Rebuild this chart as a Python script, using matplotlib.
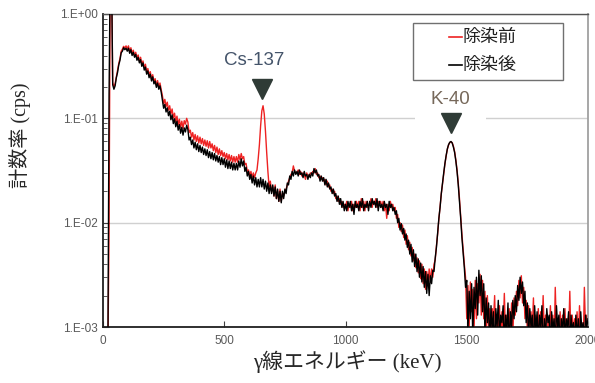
import numpy as np
import matplotlib
matplotlib.use("Agg")
import matplotlib.pyplot as plt
from matplotlib.ticker import FixedLocator, FuncFormatter, LogLocator, NullFormatter
from matplotlib.patches import Rectangle
from matplotlib.lines import Line2D

# ---------------- data (cps per 5 keV channel) ----------------
energy_start, energy_step, energy_stop = 0, 5, 2000

after_cps = [
    0.0005, 0.0005, 0.0005, 0.0005, 0.0005, 0.17, 3.0, 3.0, 0.21, 0.19,
    0.205, 0.245, 0.275, 0.325, 0.36, 0.425, 0.44, 0.475, 0.455, 0.47,
    0.44, 0.47, 0.42, 0.455, 0.40, 0.43, 0.385, 0.41, 0.36, 0.385,
    0.34, 0.365, 0.315, 0.34, 0.29, 0.31, 0.265, 0.285, 0.245, 0.265,
    0.228, 0.25, 0.214, 0.228, 0.198, 0.218, 0.19, 0.205, 0.178, 0.15,
    0.125, 0.136, 0.115, 0.126, 0.106, 0.117, 0.097, 0.108, 0.089, 0.099,
    0.083, 0.094, 0.077, 0.087, 0.072, 0.082, 0.069, 0.081, 0.074, 0.086,
    0.078, 0.062, 0.066, 0.056, 0.062, 0.052, 0.059, 0.050, 0.057, 0.048,
    0.055, 0.047, 0.053, 0.045, 0.051, 0.044, 0.050, 0.042, 0.048, 0.041,
    0.047, 0.040, 0.046, 0.039, 0.044, 0.038, 0.043, 0.036, 0.042, 0.036,
    0.041, 0.034, 0.040, 0.033, 0.039, 0.033, 0.038, 0.032, 0.037, 0.032,
    0.037, 0.032, 0.039, 0.034, 0.041, 0.035, 0.039, 0.031, 0.034, 0.028,
    0.031, 0.026, 0.029, 0.024, 0.028, 0.023, 0.027, 0.022, 0.026, 0.022,
    0.027, 0.022, 0.026, 0.021, 0.025, 0.020, 0.024, 0.019, 0.023, 0.019,
    0.023, 0.018, 0.022, 0.017, 0.021, 0.016, 0.020, 0.0155, 0.020, 0.017,
    0.021, 0.019, 0.024, 0.023, 0.028, 0.026, 0.031, 0.028, 0.032, 0.029,
    0.031, 0.028, 0.032, 0.029, 0.030, 0.027, 0.031, 0.028, 0.029, 0.026,
    0.029, 0.027, 0.030, 0.028, 0.033, 0.030, 0.032, 0.028, 0.029, 0.025,
    0.028, 0.025, 0.027, 0.023, 0.026, 0.022, 0.024, 0.021, 0.022, 0.019,
    0.021, 0.018, 0.019, 0.016, 0.018, 0.015, 0.017, 0.014, 0.016, 0.013,
    0.015, 0.013, 0.016, 0.014, 0.016, 0.013, 0.015, 0.012, 0.016, 0.014,
    0.015, 0.013, 0.016, 0.014, 0.017, 0.013, 0.015, 0.014, 0.016, 0.013,
    0.016, 0.014, 0.017, 0.015, 0.016, 0.014, 0.017, 0.013, 0.016, 0.014,
    0.015, 0.013, 0.016, 0.014, 0.015, 0.012, 0.016, 0.014, 0.015, 0.013,
    0.014, 0.012, 0.013, 0.010, 0.011, 0.0085, 0.0098, 0.0078, 0.0088, 0.0068,
    0.0078, 0.0058, 0.0068, 0.0050, 0.0062, 0.0042, 0.0055, 0.0038, 0.0050, 0.0034,
    0.0045, 0.0030, 0.0041, 0.0027, 0.0038, 0.0024, 0.0034, 0.0021, 0.0032, 0.0020,
    0.0031, 0.0026, 0.0035, 0.0034, 0.0046, 0.0058, 0.0080, 0.011, 0.014, 0.019,
    0.024, 0.030, 0.037, 0.044, 0.051, 0.056, 0.059, 0.060, 0.058, 0.053,
    0.047, 0.039, 0.031, 0.023, 0.016, 0.011, 0.0072, 0.0052, 0.0037, 0.0024,
    0.0028, 0.0009, 0.0022, 0.0012, 0.0026, 0.0008, 0.0024, 0.0015, 0.0030, 0.0013,
    0.0035, 0.0020, 0.0031, 0.0014, 0.0026, 0.0009, 0.0019, 0.0011, 0.0017, 0.0007,
    0.0016, 0.0009, 0.0014, 0.0006, 0.0015, 0.0010, 0.0018, 0.0008, 0.0013, 0.0011,
    0.0016, 0.0007, 0.0013, 0.0009, 0.0017, 0.0006, 0.0014, 0.0010, 0.0018, 0.0012,
    0.0020, 0.0014, 0.0025, 0.0018, 0.0030, 0.0021, 0.0027, 0.0016, 0.0022, 0.0011,
    0.0017, 0.0008, 0.0015, 0.0010, 0.0013, 0.0006, 0.0016, 0.0009, 0.0014, 0.0007,
    0.0013, 0.0010, 0.0016, 0.0006, 0.0012, 0.0008, 0.0015, 0.0011, 0.0013, 0.0006,
    0.0014, 0.0009, 0.0012, 0.0007, 0.0016, 0.0010, 0.0013, 0.0006, 0.0012, 0.0009,
    0.0015, 0.0008, 0.0012, 0.0010, 0.0014, 0.0006, 0.0013, 0.0009, 0.0011, 0.0007,
    0.0013, 0.0008, 0.0012, 0.0006, 0.0014, 0.0009, 0.0011, 0.0007, 0.0013, 0.0010,
    0.0012,
]

before_cps = [
    0.0005, 0.0005, 0.0005, 0.0005, 0.0005, 0.009, 3.0, 3.0, 0.22, 0.20,
    0.215, 0.25, 0.29, 0.335, 0.375, 0.44, 0.46, 0.49, 0.47, 0.495,
    0.465, 0.495, 0.44, 0.475, 0.42, 0.45, 0.40, 0.43, 0.38, 0.405,
    0.355, 0.385, 0.33, 0.355, 0.305, 0.33, 0.28, 0.30, 0.26, 0.28,
    0.24, 0.262, 0.225, 0.24, 0.208, 0.23, 0.20, 0.218, 0.188, 0.165,
    0.138, 0.152, 0.13, 0.143, 0.12, 0.132, 0.11, 0.123, 0.101, 0.112,
    0.093, 0.105, 0.087, 0.098, 0.082, 0.094, 0.080, 0.095, 0.088, 0.100,
    0.092, 0.073, 0.077, 0.066, 0.073, 0.062, 0.070, 0.060, 0.068, 0.058,
    0.066, 0.057, 0.064, 0.055, 0.062, 0.054, 0.061, 0.052, 0.060, 0.052,
    0.057, 0.049, 0.055, 0.047, 0.053, 0.045, 0.051, 0.044, 0.049, 0.043,
    0.047, 0.041, 0.046, 0.040, 0.045, 0.039, 0.044, 0.038, 0.043, 0.038,
    0.043, 0.038, 0.045, 0.040, 0.046, 0.041, 0.043, 0.036, 0.037, 0.031,
    0.032, 0.028, 0.031, 0.027, 0.030, 0.027, 0.030, 0.032, 0.041, 0.056,
    0.085, 0.118, 0.132, 0.110, 0.075, 0.047, 0.031, 0.022, 0.025, 0.020,
    0.022, 0.018, 0.023, 0.017, 0.020, 0.016, 0.021, 0.016, 0.019, 0.018,
    0.020, 0.021, 0.023, 0.025, 0.027, 0.029, 0.030, 0.035, 0.031, 0.030,
    0.030, 0.032, 0.029, 0.031, 0.028, 0.030, 0.029, 0.026, 0.030, 0.028,
    0.028, 0.030, 0.029, 0.031, 0.030, 0.033, 0.029, 0.030, 0.027, 0.028,
    0.026, 0.027, 0.025, 0.026, 0.023, 0.025, 0.022, 0.023, 0.020, 0.021,
    0.019, 0.020, 0.017, 0.018, 0.016, 0.017, 0.015, 0.016, 0.014, 0.015,
    0.014, 0.016, 0.013, 0.015, 0.014, 0.016, 0.013, 0.015, 0.014, 0.016,
    0.014, 0.016, 0.013, 0.017, 0.014, 0.016, 0.013, 0.016, 0.014, 0.015,
    0.015, 0.017, 0.014, 0.016, 0.015, 0.017, 0.014, 0.016, 0.015, 0.016,
    0.014, 0.016, 0.013, 0.015, 0.011, 0.015, 0.013, 0.016, 0.014, 0.015,
    0.013, 0.014, 0.011, 0.012, 0.009, 0.010, 0.0082, 0.0095, 0.0072, 0.0085,
    0.0062, 0.0075, 0.0055, 0.0065, 0.0048, 0.0058, 0.0043, 0.0050, 0.0037, 0.0046,
    0.0033, 0.0043, 0.0029, 0.0040, 0.0026, 0.0036, 0.0023, 0.0034, 0.0025, 0.0036,
    0.0027, 0.0036, 0.0030, 0.0040, 0.0044, 0.0060, 0.0078, 0.0108, 0.0142, 0.0188,
    0.0235, 0.0295, 0.0365, 0.0435, 0.0505, 0.0555, 0.0585, 0.0595, 0.0585, 0.0540,
    0.048, 0.040, 0.032, 0.024, 0.017, 0.0115, 0.0078, 0.0055, 0.0040, 0.0030,
    0.0012, 0.0025, 0.0010, 0.0027, 0.0014, 0.0023, 0.0009, 0.0028, 0.0012, 0.0026,
    0.0017, 0.0032, 0.0013, 0.0028, 0.0012, 0.0022, 0.0008, 0.0020, 0.0010, 0.0015,
    0.0008, 0.0015, 0.0011, 0.0020, 0.0007, 0.0013, 0.0009, 0.0016, 0.0006, 0.0014,
    0.0009, 0.0021, 0.0008, 0.0013, 0.0006, 0.0015, 0.0009, 0.0017, 0.0008, 0.0019,
    0.0013, 0.0022, 0.0016, 0.0028, 0.0019, 0.0031, 0.0017, 0.0024, 0.0012, 0.0018,
    0.0009, 0.0016, 0.0007, 0.0014, 0.0009, 0.0019, 0.0007, 0.0013, 0.0008, 0.0015,
    0.0007, 0.0014, 0.0009, 0.0020, 0.0008, 0.0013, 0.0006, 0.0012, 0.0009, 0.0016,
    0.0008, 0.0013, 0.0006, 0.0024, 0.0009, 0.0012, 0.0007, 0.0014, 0.0008, 0.0013,
    0.0009, 0.0015, 0.0007, 0.0012, 0.0008, 0.0022, 0.0007, 0.0013, 0.0009, 0.0012,
    0.0008, 0.0014, 0.0007, 0.0016, 0.0008, 0.0011, 0.0006, 0.0024, 0.0009, 0.0013,
    0.0010,
]

series_labels = ["除染前", "除染後"]
series_colors = ["#ee2222", "black"]
x_ticks = [0, 500, 1000, 1500, 2000]
y_ticks = [1e-3, 1e-2, 1e-1, 1e0]

peak_names = ["Cs-137", "K-40"]
peak_marker_x = [657, 1435]
peak_marker_y = [0.19, 0.09]
peak_text_x = [622, 1431]
peak_text_y = [0.355, 0.152]
peak_text_colors = ["#44546a", "#76685a"]

energy = np.arange(energy_start, energy_stop + energy_step, energy_step)

# ---------------- figure ----------------
fig = plt.figure(figsize=(5.95, 3.83), dpi=100)
ax = fig.add_axes([103 / 595, 1 - 327 / 383, 485 / 595, 313 / 383])
ax.set_axisbelow(True)

ax.plot(energy, before_cps, color=series_colors[0], lw=1.0, zorder=2)
ax.plot(energy, after_cps, color=series_colors[1], lw=1.0, zorder=3)

ax.set_yscale("log")
ax.set_xlim(0, 2000)
ax.set_ylim(1e-3, 1)

ax.xaxis.set_major_locator(FixedLocator(x_ticks))
ax.yaxis.set_major_locator(FixedLocator(y_ticks))
ax.yaxis.set_minor_locator(LogLocator(base=10, subs=np.arange(2, 10)))
ax.yaxis.set_minor_formatter(NullFormatter())
ax.yaxis.set_major_formatter(FuncFormatter(lambda v, p: "1.E%+03d" % int(round(np.log10(v)))))

ax.tick_params(axis="both", which="major", direction="in", length=4, width=0.8,
               labelsize=8.5, labelcolor="#595959", color="#404040")
ax.tick_params(axis="y", which="minor", direction="in", length=3, width=0.6, color="#404040")
ax.tick_params(axis="x", pad=6)
ax.tick_params(axis="y", pad=4)
for lab in ax.get_xticklabels() + ax.get_yticklabels():
    lab.set_family("Liberation Sans")

ax.grid(True, axis="y", which="major", color="#d0d0d0", lw=1.0)

ax.spines["left"].set_color("#202020")
ax.spines["left"].set_linewidth(1.3)
ax.spines["bottom"].set_color("#202020")
ax.spines["bottom"].set_linewidth(1.3)
ax.spines["top"].set_color("#555555")
ax.spines["top"].set_linewidth(1.0)
ax.spines["right"].set_color("#a0a0a0")
ax.spines["right"].set_linewidth(1.3)

# white label area behind K-40 (breaks the gridline like the original)
ax.add_patch(Rectangle((0.643, 0.662), 0.147, 0.115, transform=ax.transAxes,
                       facecolor="white", edgecolor="none", zorder=1))

# peak markers and labels
for name, mx, my, tx, ty, tc in zip(peak_names, peak_marker_x, peak_marker_y,
                                    peak_text_x, peak_text_y, peak_text_colors):
    ax.plot([mx], [my], marker="v", ms=14, color="#2f3b36", zorder=4, clip_on=False)
    ax.text(tx, ty, name, ha="center", va="center", fontsize=13.5, color=tc,
            family="Liberation Sans", zorder=5)

# legend box (text legend with a coloured dash)
ax.add_patch(Rectangle((0.639, 0.789), 0.309, 0.182, transform=ax.transAxes,
                       facecolor="white", edgecolor="#707070", lw=1.0, zorder=6))
legend_rows_y = [0.927, 0.837]
for lbl, col, ry in zip(series_labels, series_colors, legend_rows_y):
    ax.add_line(Line2D([0.713, 0.741], [ry, ry], transform=ax.transAxes,
                       color=col, lw=1.2, zorder=7))
    ax.text(0.742, ry, lbl, transform=ax.transAxes, ha="left", va="center",
            fontsize=13, family=["Noto Sans CJK JP"], color="#202020", zorder=7)

# axis labels
fig.text(347 / 595, 1 - 362 / 383, "γ線エネルギー (keV)", ha="center", va="center",
         fontsize=15, family=["Liberation Serif", "Noto Sans CJK JP"], color="#262626")
fig.text(20 / 595, 1 - 135 / 383, "計数率 (cps)", ha="center", va="center", rotation=90,
         fontsize=14.5, family=["Liberation Serif", "Noto Sans CJK JP"], color="#262626")

fig.savefig("out.png", dpi=100)
